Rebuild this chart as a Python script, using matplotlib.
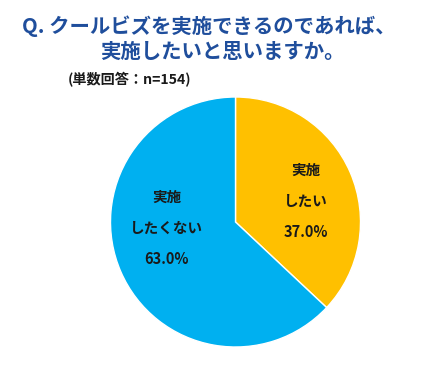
import matplotlib
matplotlib.use('Agg')
import matplotlib.pyplot as plt

plt.rcParams['font.family'] = ['Noto Sans CJK JP', 'DejaVu Sans']

# データ
labels = ['実施\nしたい', '実施\nしたくない']
values = [37.0, 63.0]
colors = ['#FFC000', '#00B0F0']
title_1 = 'Q. クールビズを実施できるのであれば、'
title_2 = '実施したいと思いますか。'
subtitle = '(単数回答：n=154)'

W, H = 443, 375
fig = plt.figure(figsize=(W / 100, H / 100), dpi=100)
fig.patch.set_facecolor('white')

ax = fig.add_axes([110 / W, (H - 347) / H, 251 / W, 250 / H])
wedges, _ = ax.pie(values, colors=colors, startangle=90, counterclock=False,
                   wedgeprops=dict(edgecolor='white', linewidth=1))
ax.set_xlim(-1.0, 1.0)
ax.set_ylim(-1.0, 1.0)
ax.set_aspect('equal')

# ラベル (中心からの位置)
label_pos = [(0.56, 0.42), (-0.55, 0.20)]
for (lx, ly), lab, v in zip(label_pos, labels, values):
    top, bottom = lab.split('\n')
    for k, t in enumerate([top, bottom, f'{v:.1f}%']):
        ax.text(lx, ly - k * 0.25, t, ha='center', va='center',
                fontsize=10.5, fontweight='bold', color='#1a1a1a')

fig.text(22 / W, 1 - 26 / H, title_1, ha='left', va='center',
         fontsize=14.7, fontweight='bold', color='#1F4E9C')
fig.text(222 / W, 1 - 51 / H, title_2, ha='center', va='center',
         fontsize=14.7, fontweight='bold', color='#1F4E9C')
fig.text(68 / W, 1 - 80 / H, subtitle, ha='left', va='center',
         fontsize=10.2, fontweight='bold', color='#1a1a1a')

fig.savefig('out.png', dpi=100)
